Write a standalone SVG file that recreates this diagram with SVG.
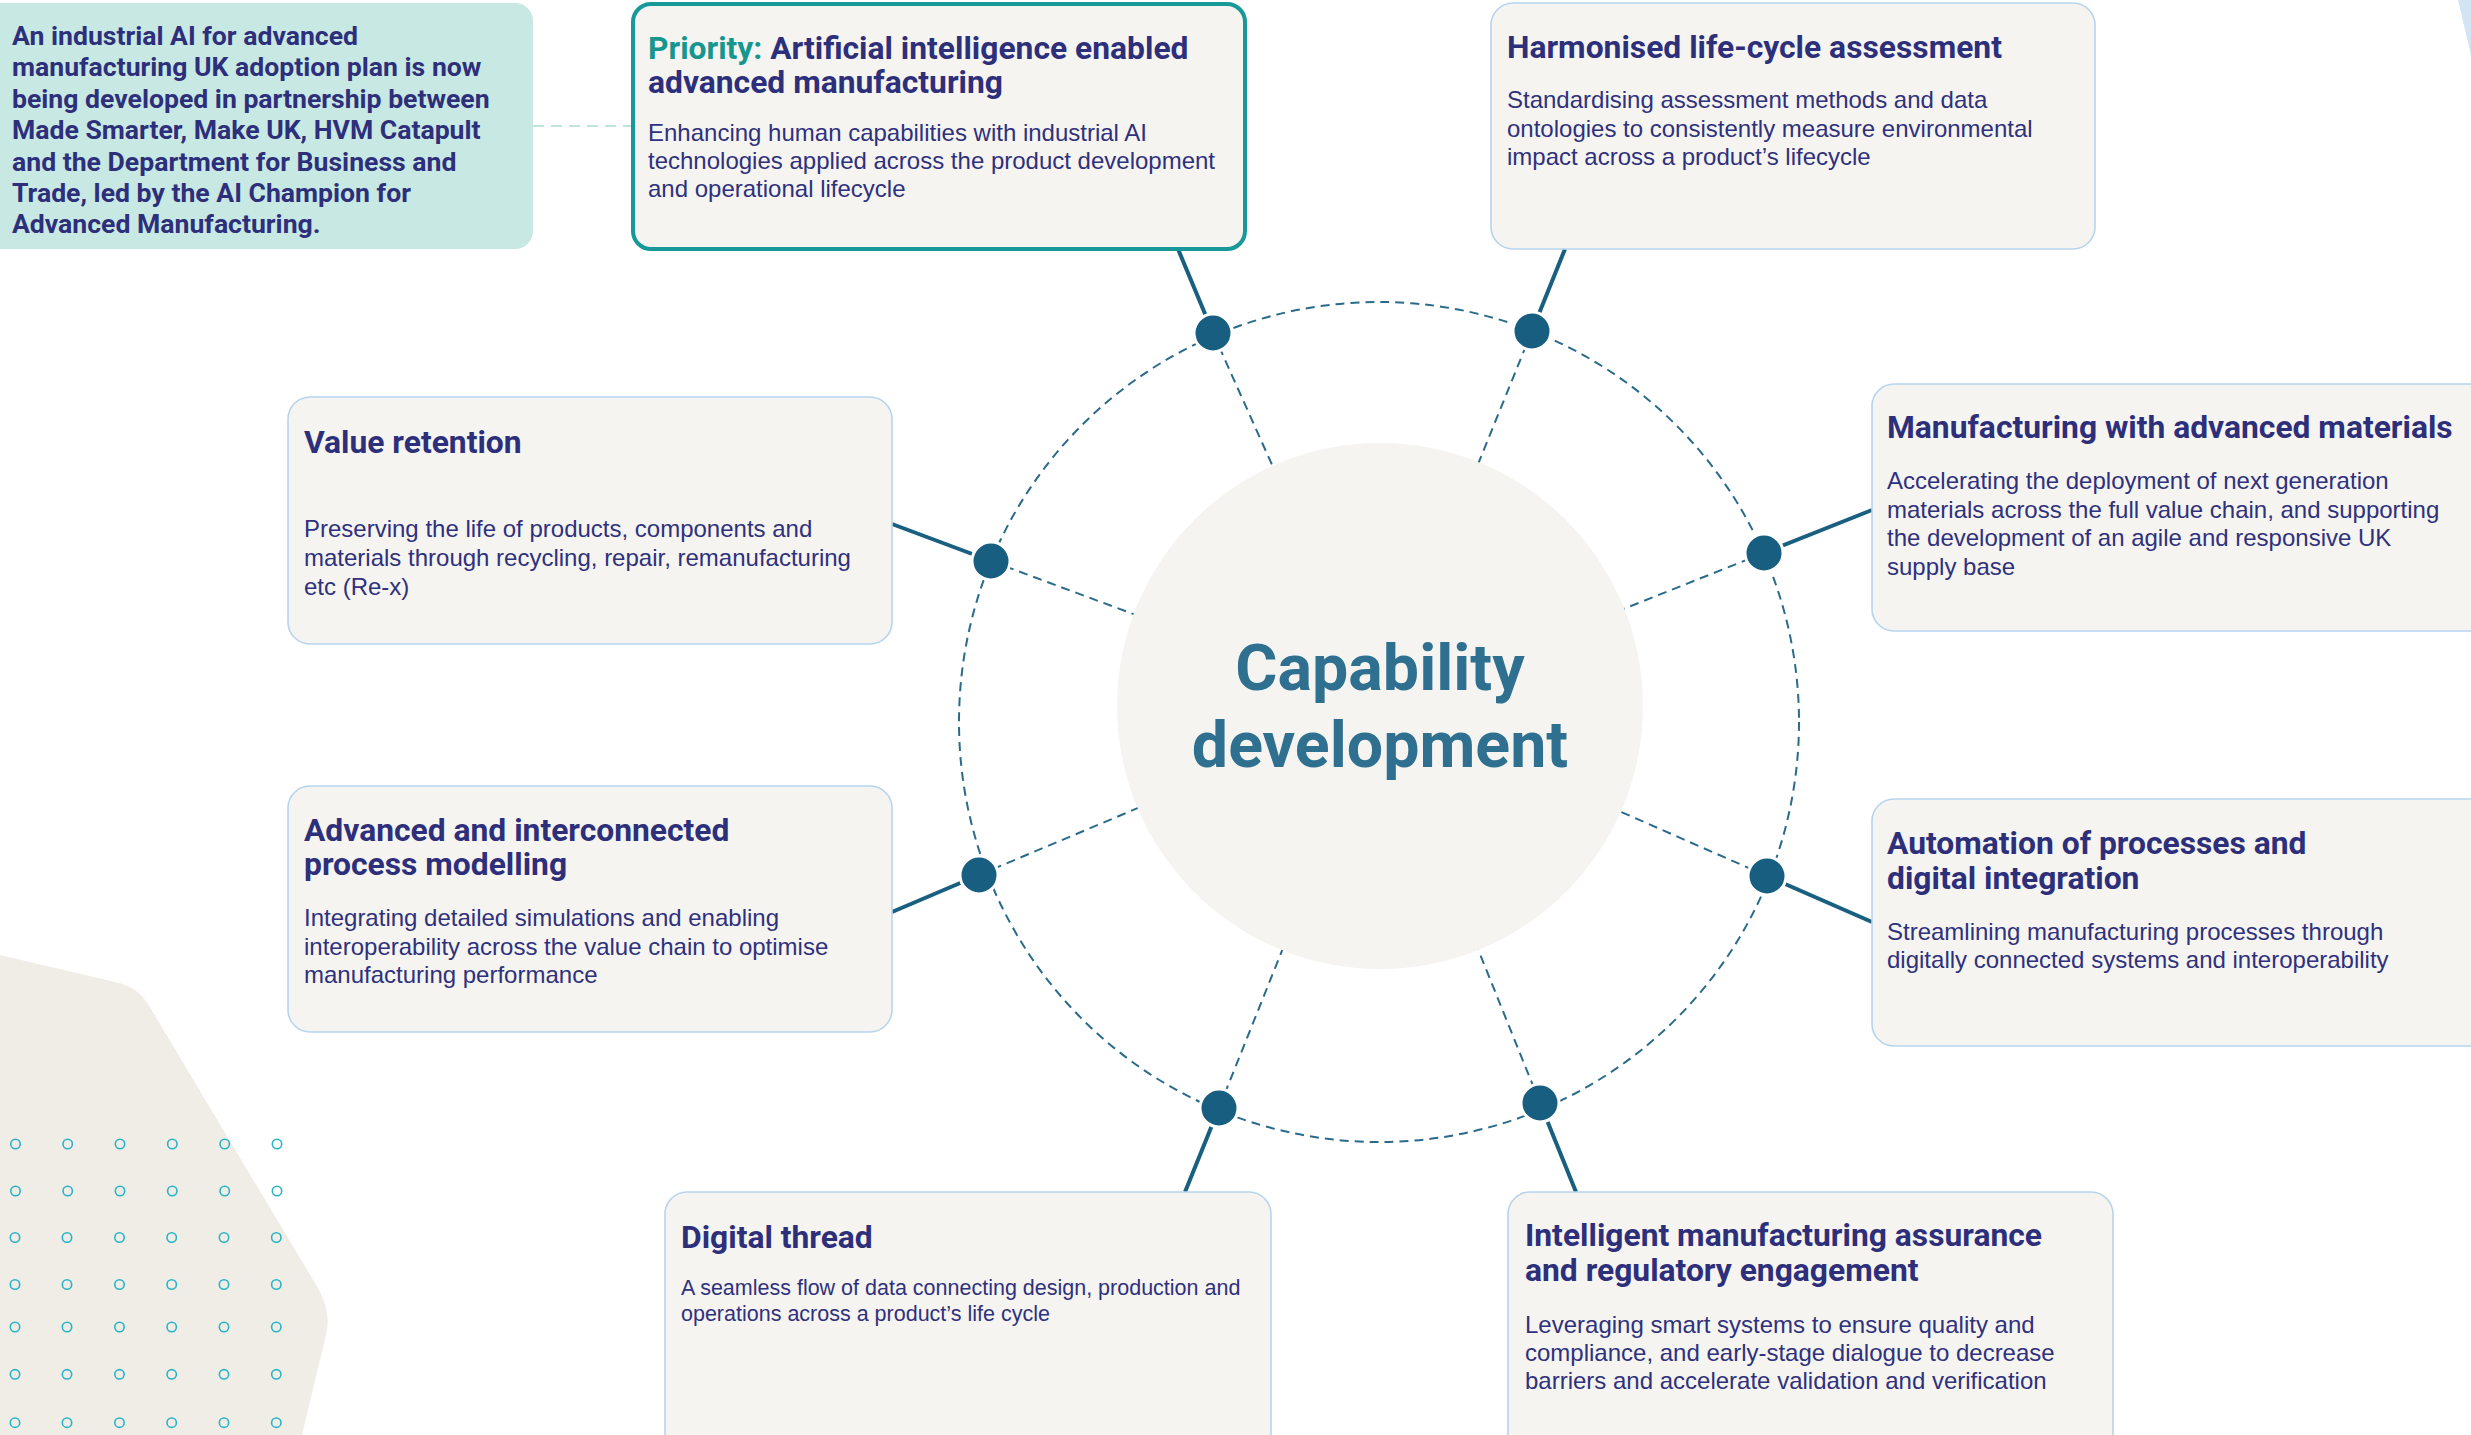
<svg xmlns="http://www.w3.org/2000/svg" width="2471" height="1435" viewBox="0 0 2471 1435">
<defs>
<style>
.box{fill:#f5f4f1;stroke:#b7d4ee;stroke-width:1.6}
.ttl{font-family:Roboto,"Liberation Sans",sans-serif;font-weight:700;font-size:31.8px;fill:#2d2f7a}
.body{font-family:"Liberation Sans",Arial,sans-serif;font-size:24px;fill:#2f317c}
.small{font-size:21.5px}
.info{font-family:Roboto,"Liberation Sans",sans-serif;font-weight:700;font-size:26.6px;fill:#2d2f7a}
.spoke{stroke:#2a6b8b;stroke-width:2;stroke-dasharray:9 6;fill:none}
.solid{stroke:#185f80;stroke-width:4;fill:none}
.dot{fill:#175e80;stroke:#ffffff;stroke-width:3}
.grid circle{fill:none;stroke:#2ab4c8;stroke-width:1.6}
</style>
</defs>
<rect width="2471" height="1435" fill="#ffffff"/>
<path d="M0,955 L115,982 C132,986 140,992 148,1004 L318,1288 C326,1302 330,1318 326,1335 L302,1435 L0,1435 Z" fill="#f0ede6"/>
<polygon points="2458,0 2471,0 2471,55" fill="#d3e4f5"/>
<g class="grid">
<circle cx="15.5" cy="1144" r="4.7"/><circle cx="67.7" cy="1144" r="4.7"/><circle cx="120" cy="1144" r="4.7"/><circle cx="172.3" cy="1144" r="4.7"/><circle cx="224.7" cy="1144" r="4.7"/><circle cx="277" cy="1144" r="4.7"/>
<circle cx="15.5" cy="1191" r="4.7"/><circle cx="67.7" cy="1191" r="4.7"/><circle cx="120" cy="1191" r="4.7"/><circle cx="172.3" cy="1191" r="4.7"/><circle cx="224.7" cy="1191" r="4.7"/><circle cx="277" cy="1191" r="4.7"/>
<circle cx="15" cy="1237.5" r="4.7"/><circle cx="67" cy="1237.5" r="4.7"/><circle cx="119.5" cy="1237.5" r="4.7"/><circle cx="171.7" cy="1237.5" r="4.7"/><circle cx="224" cy="1237.5" r="4.7"/><circle cx="276.3" cy="1237.5" r="4.7"/>
<circle cx="15" cy="1284.5" r="4.7"/><circle cx="67" cy="1284.5" r="4.7"/><circle cx="119.5" cy="1284.5" r="4.7"/><circle cx="171.7" cy="1284.5" r="4.7"/><circle cx="224" cy="1284.5" r="4.7"/><circle cx="276.3" cy="1284.5" r="4.7"/>
<circle cx="15" cy="1327" r="4.7"/><circle cx="67" cy="1327" r="4.7"/><circle cx="119.5" cy="1327" r="4.7"/><circle cx="171.7" cy="1327" r="4.7"/><circle cx="224" cy="1327" r="4.7"/><circle cx="276.3" cy="1327" r="4.7"/>
<circle cx="15" cy="1374.3" r="4.7"/><circle cx="67" cy="1374.3" r="4.7"/><circle cx="119.5" cy="1374.3" r="4.7"/><circle cx="171.7" cy="1374.3" r="4.7"/><circle cx="224" cy="1374.3" r="4.7"/><circle cx="276.3" cy="1374.3" r="4.7"/>
<circle cx="15" cy="1422.7" r="4.7"/><circle cx="67" cy="1422.7" r="4.7"/><circle cx="119.5" cy="1422.7" r="4.7"/><circle cx="171.7" cy="1422.7" r="4.7"/><circle cx="224" cy="1422.7" r="4.7"/><circle cx="276.3" cy="1422.7" r="4.7"/>
</g>
<g id="connectors">
<circle cx="1379" cy="722" r="420" class="spoke"/>
<line class="spoke" x1="1213" y1="333" x2="1380" y2="706"/>
<line class="spoke" x1="1532" y1="331" x2="1380" y2="706"/>
<line class="spoke" x1="1764" y1="553" x2="1380" y2="706"/>
<line class="spoke" x1="1767" y1="876" x2="1380" y2="706"/>
<line class="spoke" x1="1540" y1="1103" x2="1380" y2="706"/>
<line class="spoke" x1="1219" y1="1108" x2="1380" y2="706"/>
<line class="spoke" x1="979" y1="875" x2="1380" y2="706"/>
<line class="spoke" x1="991" y1="561" x2="1380" y2="706"/>
<line class="solid" x1="1213" y1="333" x2="1178" y2="249"/>
<line class="solid" x1="1532" y1="331" x2="1565" y2="249"/>
<line class="solid" x1="1764" y1="553" x2="1872" y2="510"/>
<line class="solid" x1="1767" y1="876" x2="1872" y2="922"/>
<line class="solid" x1="1540" y1="1103" x2="1576" y2="1192"/>
<line class="solid" x1="1219" y1="1108" x2="1185" y2="1192"/>
<line class="solid" x1="979" y1="875" x2="892" y2="912"/>
<line class="solid" x1="991" y1="561" x2="892" y2="524"/>
<line x1="533" y1="126" x2="632" y2="126" stroke="#bfe3df" stroke-width="2" stroke-dasharray="11 7"/>
</g>
<g id="center">
<circle cx="1380" cy="706" r="263" fill="#f5f4f1"/>
<text x="1380" y="690" text-anchor="middle" font-family="Roboto, 'Liberation Sans', sans-serif" font-weight="700" font-size="64.5" fill="#2f7090">Capability</text>
<text x="1380" y="767" text-anchor="middle" font-family="Roboto, 'Liberation Sans', sans-serif" font-weight="700" font-size="64.5" fill="#2f7090">development</text>
</g>
<g id="dots">
<circle class="dot" cx="1213" cy="333" r="19"/>
<circle class="dot" cx="1532" cy="331" r="19"/>
<circle class="dot" cx="1764" cy="553" r="19"/>
<circle class="dot" cx="1767" cy="876" r="19"/>
<circle class="dot" cx="1540" cy="1103" r="19"/>
<circle class="dot" cx="1219" cy="1108" r="19"/>
<circle class="dot" cx="979" cy="875" r="19"/>
<circle class="dot" cx="991" cy="561" r="19"/>
</g>
<g id="info">
<rect x="-20" y="3" width="553" height="246" rx="18" fill="#c8e8e4"/>
<text class="info" x="12" y="45">An industrial AI for advanced</text>
<text class="info" x="12" y="76.4">manufacturing UK adoption plan is now</text>
<text class="info" x="12" y="107.8">being developed in partnership between</text>
<text class="info" x="12" y="139.2">Made Smarter, Make UK, HVM Catapult</text>
<text class="info" x="12" y="170.6">and the Department for Business and</text>
<text class="info" x="12" y="202">Trade, led by the AI Champion for</text>
<text class="info" x="12" y="233.4">Advanced Manufacturing.</text>
</g>
<g id="priority">
<rect x="633" y="4" width="612" height="245" rx="18" fill="#f5f4f1" stroke="#17999a" stroke-width="4"/>
<text class="ttl" x="648" y="59"><tspan fill="#16968f">Priority:</tspan> Artificial intelligence enabled</text>
<text class="ttl" x="648" y="93">advanced manufacturing</text>
<text class="body" x="648" y="141">Enhancing human capabilities with industrial AI</text>
<text class="body" x="648" y="169">technologies applied across the product development</text>
<text class="body" x="648" y="197">and operational lifecycle</text>
</g>
<g id="harmonised">
<rect class="box" x="1491" y="3" width="604" height="246" rx="22"/>
<text class="ttl" x="1507" y="58">Harmonised life-cycle assessment</text>
<text class="body" x="1507" y="108">Standardising assessment methods and data</text>
<text class="body" x="1507" y="137">ontologies to consistently measure environmental</text>
<text class="body" x="1507" y="165">impact across a product’s lifecycle</text>
</g>
<g id="value-retention">
<rect class="box" x="288" y="397" width="604" height="247" rx="22"/>
<text class="ttl" x="304" y="453">Value retention</text>
<text class="body" x="304" y="537">Preserving the life of products, components and</text>
<text class="body" x="304" y="566">materials through recycling, repair, remanufacturing</text>
<text class="body" x="304" y="595">etc (Re-x)</text>
</g>
<g id="advanced-materials">
<rect class="box" x="1872" y="384" width="630" height="247" rx="22"/>
<text class="ttl" x="1887" y="438">Manufacturing with advanced materials</text>
<text class="body" x="1887" y="489">Accelerating the deployment of next generation</text>
<text class="body" x="1887" y="518">materials across the full value chain, and supporting</text>
<text class="body" x="1887" y="546">the development of an agile and responsive UK</text>
<text class="body" x="1887" y="575">supply base</text>
</g>
<g id="process-modelling">
<rect class="box" x="288" y="786" width="604" height="246" rx="22"/>
<text class="ttl" x="304" y="841">Advanced and interconnected</text>
<text class="ttl" x="304" y="875">process modelling</text>
<text class="body" x="304" y="926">Integrating detailed simulations and enabling</text>
<text class="body" x="304" y="955">interoperability across the value chain to optimise</text>
<text class="body" x="304" y="983">manufacturing performance</text>
</g>
<g id="automation">
<rect class="box" x="1872" y="799" width="630" height="247" rx="22"/>
<text class="ttl" x="1887" y="854">Automation of processes and</text>
<text class="ttl" x="1887" y="889">digital integration</text>
<text class="body" x="1887" y="940">Streamlining manufacturing processes through</text>
<text class="body" x="1887" y="968">digitally connected systems and interoperability</text>
</g>
<g id="digital-thread">
<rect class="box" x="665" y="1192" width="606" height="270" rx="22"/>
<text class="ttl" x="681" y="1248">Digital thread</text>
<text class="body small" x="681" y="1295">A seamless flow of data connecting design, production and</text>
<text class="body small" x="681" y="1321">operations across a product’s life cycle</text>
</g>
<g id="assurance">
<rect class="box" x="1508" y="1192" width="605" height="270" rx="22"/>
<text class="ttl" x="1525" y="1246">Intelligent manufacturing assurance</text>
<text class="ttl" x="1525" y="1281">and regulatory engagement</text>
<text class="body" x="1525" y="1333">Leveraging smart systems to ensure quality and</text>
<text class="body" x="1525" y="1361">compliance, and early-stage dialogue to decrease</text>
<text class="body" x="1525" y="1389">barriers and accelerate validation and verification</text>
</g>
</svg>
